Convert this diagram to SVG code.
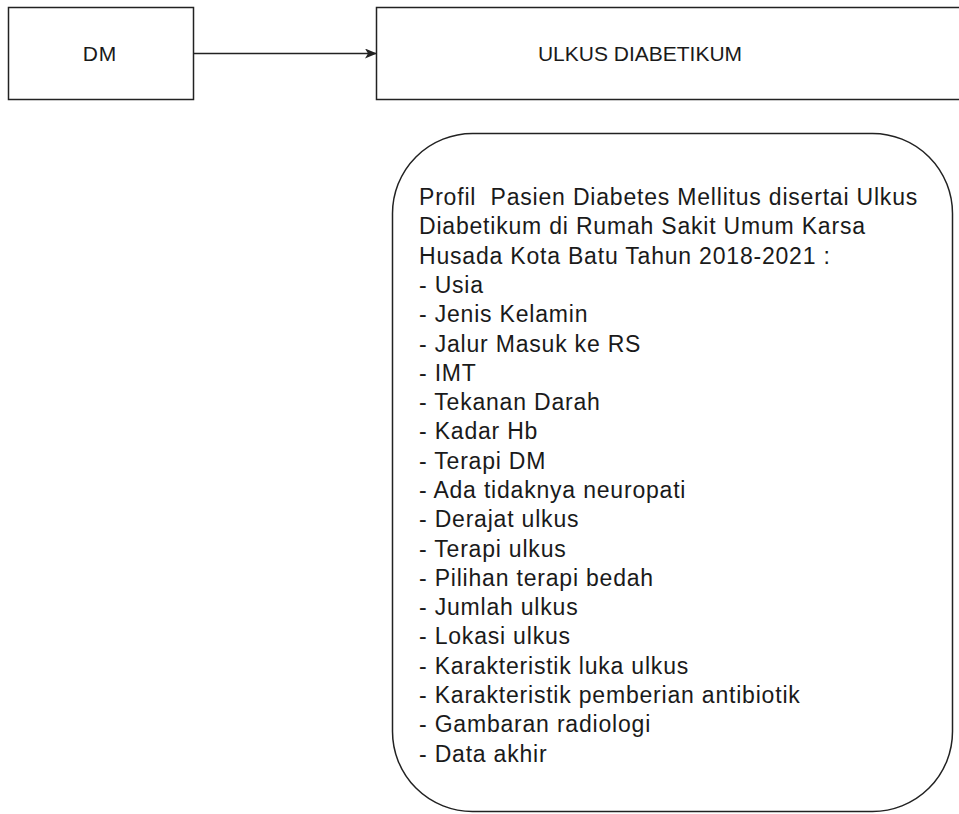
<svg xmlns="http://www.w3.org/2000/svg" width="959" height="814" viewBox="0 0 959 814">
<style>
.box{fill:#fff;stroke:#222;stroke-width:1.5}
.t{font-family:"Liberation Sans",Arial,sans-serif;font-size:21px;fill:#1a1a1a}
.b{font-family:"Liberation Sans",Arial,sans-serif;font-size:23px;letter-spacing:0.8px;fill:#1a1a1a;white-space:pre}
.edge{stroke:#222;stroke-width:1.5;fill:none}
</style>
<defs>
<marker id="arr" markerWidth="12" markerHeight="10" refX="11" refY="5" orient="auto" markerUnits="userSpaceOnUse">
<path d="M0,0 L12,5 L0,10 L3,5 Z" fill="#222"/>
</marker>
</defs>
<rect width="959" height="814" fill="#fff"/>
<g id="dm">
<rect class="box" x="8.5" y="7.5" width="185" height="92"/>
<text class="t" x="100" y="61" text-anchor="middle" font-size="22" letter-spacing="1">DM</text>
</g>
<g id="ulkus">
<rect class="box" x="376.5" y="7.5" width="640" height="92"/>
<text class="t" x="640" y="61" text-anchor="middle">ULKUS DIABETIKUM</text>
</g>
<g id="profil">
<rect class="box" x="392.5" y="133.5" width="560" height="678" rx="80" ry="80"/>
<text class="b" x="419" y="205" xml:space="preserve"><tspan x="419" y="205">Profil  Pasien Diabetes Mellitus disertai Ulkus</tspan><tspan x="419" dy="29.3">Diabetikum di Rumah Sakit Umum Karsa</tspan><tspan x="419" dy="29.3">Husada Kota Batu Tahun 2018-2021 :</tspan><tspan x="419" dy="29.3">- Usia</tspan><tspan x="419" dy="29.3">- Jenis Kelamin</tspan><tspan x="419" dy="29.3">- Jalur Masuk ke RS</tspan><tspan x="419" dy="29.3">- IMT</tspan><tspan x="419" dy="29.3">- Tekanan Darah</tspan><tspan x="419" dy="29.3">- Kadar Hb</tspan><tspan x="419" dy="29.3">- Terapi DM</tspan><tspan x="419" dy="29.3">- Ada tidaknya neuropati</tspan><tspan x="419" dy="29.3">- Derajat ulkus</tspan><tspan x="419" dy="29.3">- Terapi ulkus</tspan><tspan x="419" dy="29.3">- Pilihan terapi bedah</tspan><tspan x="419" dy="29.3">- Jumlah ulkus</tspan><tspan x="419" dy="29.3">- Lokasi ulkus</tspan><tspan x="419" dy="29.3">- Karakteristik luka ulkus</tspan><tspan x="419" dy="29.3">- Karakteristik pemberian antibiotik</tspan><tspan x="419" dy="29.3">- Gambaran radiologi</tspan><tspan x="419" dy="29.3">- Data akhir</tspan></text>
</g>
<g id="connectors">
<line class="edge" x1="193.5" y1="53.5" x2="376" y2="53.5" marker-end="url(#arr)"/>
</g>
</svg>
